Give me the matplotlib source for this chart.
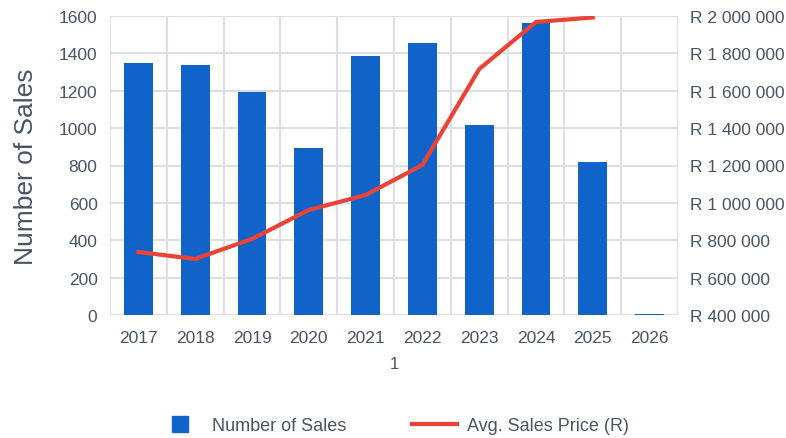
import matplotlib
matplotlib.use('Agg')
import matplotlib.pyplot as plt
from matplotlib.ticker import FuncFormatter, MultipleLocator
from matplotlib.lines import Line2D

plt.rcParams['font.family'] = ['Liberation Sans', 'DejaVu Sans']

years = ['2017', '2018', '2019', '2020', '2021', '2022', '2023', '2024', '2025', '2026']
num_sales = [1350, 1340, 1195, 893, 1385, 1457, 1016, 1562, 818, 3]
avg_price = [737000, 700000, 807000, 962000, 1042000, 1203000, 1716000, 1968000, 1992000, None]

bar_color = '#1064c9'
line_color = '#ea4335'
grid_color = '#dce0e6'
text_color = '#4a5464'

fig = plt.figure(figsize=(7.86, 4.39), dpi=100)
ax = fig.add_axes([110 / 786, 1 - 316 / 439, 568 / 786, 299 / 439])
x = list(range(len(years)))
ax.bar(x, num_sales, width=0.51, color=bar_color, zorder=2)
ax.set_xlim(-0.5, len(years) - 0.5)
ax.set_ylim(0, 1600)
ax.yaxis.set_major_locator(MultipleLocator(200))
ax.set_xticks(x)
ax.set_xticklabels(years)
ax.set_xticks([i - 0.5 for i in range(len(years) + 1)], minor=True)
ax.grid(True, which='minor', axis='x', color=grid_color, lw=1.5, zorder=0)
ax.grid(True, which='major', axis='y', color=grid_color, lw=1.5, zorder=0)
for s in ax.spines.values():
    s.set_visible(False)
ax.tick_params(which='both', length=0, labelsize=12.5, colors=text_color)
ax.tick_params(axis='x', pad=11)
ax.tick_params(axis='y', pad=9)
ax.set_ylabel('Number of Sales', fontsize=19, color=text_color, labelpad=15)
ax.set_xlabel('1', fontsize=12, color=text_color, labelpad=8)

ax2 = ax.twinx()
px = [i for i, v in zip(x, avg_price) if v is not None]
py = [v for v in avg_price if v is not None]
ax2.plot(px, py, color=line_color, lw=3, zorder=3)
ax2.set_ylim(400000, 2000000)
ax2.yaxis.set_major_locator(MultipleLocator(200000))
ax2.yaxis.set_major_formatter(FuncFormatter(lambda v, p: 'R ' + f'{int(v):,}'.replace(',', ' ')))
for s in ax2.spines.values():
    s.set_visible(False)
ax2.tick_params(length=0, labelsize=12.5, colors=text_color, pad=9)

handles = [Line2D([0], [0], color=bar_color, marker='s', ls='none', markersize=12,
                  label='Number of Sales'),
           Line2D([0], [0], color=line_color, lw=3, label='Avg. Sales Price (R)')]
fig.legend(handles=handles, loc='center', bbox_to_anchor=(393 / 786, 1 - 427 / 439),
           ncol=2, frameon=False, fontsize=13, labelcolor=text_color,
           handlelength=2.5, handletextpad=0.55, columnspacing=3.6)

fig.savefig('out.png', dpi=100)
